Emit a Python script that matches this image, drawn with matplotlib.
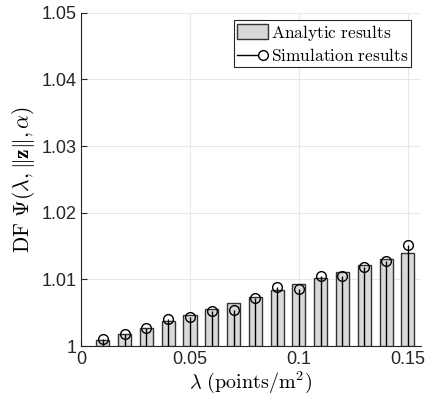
import matplotlib
matplotlib.use('Agg')
import matplotlib.pyplot as plt
from matplotlib.legend_handler import HandlerBase
from matplotlib.lines import Line2D
from matplotlib.patches import Patch
import numpy as np

plt.rcParams['font.family'] = ['Liberation Sans', 'DejaVu Sans']
plt.rcParams['mathtext.fontset'] = 'cm'

lam = [0.01, 0.02, 0.03, 0.04, 0.05, 0.06, 0.07, 0.08,
       0.09, 0.10, 0.11, 0.12, 0.13, 0.14, 0.15]
analytic = [1.0009, 1.0018, 1.00275, 1.00375, 1.0046, 1.0055, 1.0065, 1.0074,
            1.0084, 1.0093, 1.0102, 1.0111, 1.0121, 1.0130, 1.0140]
simulation = [1.0010, 1.00175, 1.00275, 1.0041, 1.0044, 1.0052, 1.0054, 1.0072,
              1.0088, 1.0086, 1.0105, 1.0105, 1.0118, 1.0127, 1.0151]


class StemHandler(HandlerBase):               # MATLAB-style stem legend: line then circle
    def create_artists(self, legend, orig_handle, xdescent, ydescent,
                       width, height, fontsize, trans):
        y = height / 2 - ydescent
        r = 4
        ln = Line2D([-xdescent, width - xdescent - 2*r], [y, y], color='k', lw=1)
        mk = Line2D([width - xdescent - r], [y], marker='o', ms=7, mfc='none',
                    mec='k', mew=1, ls='none')
        ln.set_transform(trans)
        mk.set_transform(trans)
        return [ln, mk]


fig = plt.figure(figsize=(4.38, 4.03), dpi=100)
ax = fig.add_axes([0.185, 0.1414, 0.776, 0.827])

ax.bar(lam, np.array(analytic) - 1, width=0.006, bottom=1, color='#d9d9d9',
       edgecolor='#333333', lw=1, zorder=3)
ax.vlines(lam, 1, simulation, color='k', lw=1, zorder=4)
ax.plot(lam, simulation, 'o', ms=7, mfc='none', mec='k', mew=1, zorder=5)

ax.set_xlim(0, 0.156)
ax.set_ylim(1, 1.05)
ax.set_xticks([0, 0.05, 0.1, 0.15])
ax.set_xticklabels(['0', '0.05', '0.1', '0.15'])
ax.set_yticks([1, 1.01, 1.02, 1.03, 1.04, 1.05])
ax.set_yticklabels(['1', '1.01', '1.02', '1.03', '1.04', '1.05'])
ax.tick_params(direction='in', labelsize=13, length=4, color='#262626',
               labelcolor='#262626')
ax.grid(True, color='#e8e8e8', lw=0.8, zorder=0)
ax.set_axisbelow(True)
for s in ['top', 'right']:
    ax.spines[s].set_visible(False)
for s in ['left', 'bottom']:
    ax.spines[s].set_color('#262626')

ax.set_xlabel(r'$\lambda\ (\mathrm{points/m}^2)$', fontsize=14.5, labelpad=1)
ax.set_ylabel(r'$\mathrm{DF}\ \Psi(\lambda, \|\mathbf{z}\|, \alpha)$', fontsize=15.5, labelpad=3)

h1 = Patch(facecolor='#d9d9d9', edgecolor='#333333', lw=1)
h2 = Line2D([], [])
leg = ax.legend([h1, h2], [r'$\mathrm{Analytic\ results}$', r'$\mathrm{Simulation\ results}$'],
                handler_map={h2: StemHandler()}, loc='upper right',
                bbox_to_anchor=(0.971, 0.978), fontsize=12.5, fancybox=False,
                edgecolor='#262626', framealpha=1, handlelength=1.8,
                handleheight=0.9, handletextpad=0.15, borderpad=0.15,
                labelspacing=0.25, borderaxespad=0)
leg.get_frame().set_linewidth(0.8)

fig.savefig('out.png', dpi=100)
